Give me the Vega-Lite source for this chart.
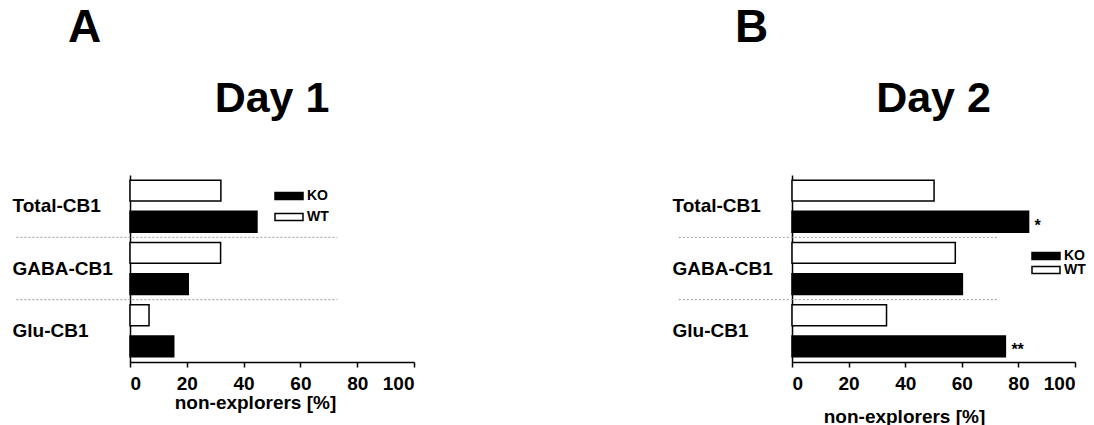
{
  "$schema": "https://vega.github.io/schema/vega-lite/v6.json",
  "padding": {"left": 12, "top": 5, "right": 0, "bottom": 0},
  "background": "white",
  "config": {
    "font": "Liberation Sans",
    "view": {"stroke": null},
    "axis": {"grid": false, "domainColor": "black", "domainWidth": 1.5, "tickColor": "black", "tickWidth": 1.5, "labelColor": "black", "labelFontWeight": "bold", "titleColor": "black", "titleFontWeight": "bold", "labelFontSize": 19, "titleFontSize": 19},
    "axisY": {"ticks": false, "tickSize": 0, "labelAlign": "left", "labelPadding": 118},
    "axisX": {"tickSize": 5, "labelPadding": 7, "titlePadding": 0},
    "legend": {"title": null, "orient": "none", "padding": 0, "symbolType": "M-2.333,-0.583h4.667v1.167h-4.667z", "symbolSize": 144, "symbolStrokeColor": "black", "symbolStrokeWidth": 1.5, "labelFontSize": 14, "labelFontWeight": "bold", "labelColor": "black", "labelOffset": 11},
    "title": {"color": "black", "fontWeight": "bold"}
  },
  "datasets": {
    "day1": [
      {"group": "Total-CB1", "genotype": "WT", "value": 32.0, "sig": ""},
      {"group": "Total-CB1", "genotype": "KO", "value": 44.7, "sig": ""},
      {"group": "GABA-CB1", "genotype": "WT", "value": 31.9, "sig": ""},
      {"group": "GABA-CB1", "genotype": "KO", "value": 20.5, "sig": ""},
      {"group": "Glu-CB1", "genotype": "WT", "value": 6.7, "sig": ""},
      {"group": "Glu-CB1", "genotype": "KO", "value": 15.4, "sig": ""}
    ],
    "day2": [
      {"group": "Total-CB1", "genotype": "WT", "value": 50.2, "sig": ""},
      {"group": "Total-CB1", "genotype": "KO", "value": 83.6, "sig": "*"},
      {"group": "GABA-CB1", "genotype": "WT", "value": 57.7, "sig": ""},
      {"group": "GABA-CB1", "genotype": "KO", "value": 60.2, "sig": ""},
      {"group": "Glu-CB1", "genotype": "WT", "value": 33.4, "sig": ""},
      {"group": "Glu-CB1", "genotype": "KO", "value": 75.4, "sig": "**"}
    ]
  },
  "spacing": 257,
  "resolve": {"legend": {"fill": "independent"}},
  "hconcat": [
    {
      "title": {"text": "A", "anchor": "start", "fontSize": 46, "dx": 56, "offset": 26},
      "resolve": {"legend": {"fill": "independent"}},
      "vconcat": [
        {
          "width": 284,
          "height": 187,
          "title": {"text": "Day 1", "anchor": "middle", "frame": "group", "fontSize": 43, "offset": 54},
          "data": {"name": "day1"},
          "layer": [
            {
              "mark": {"type": "bar", "stroke": "black", "strokeWidth": 1.5},
              "encoding": {
                "y": {"field": "group", "type": "nominal", "sort": ["Total-CB1", "GABA-CB1", "Glu-CB1"], "title": null, "scale": {"paddingInner": 0, "paddingOuter": 0}, "axis": {"labelPadding": 118}},
                "yOffset": {"field": "genotype", "type": "nominal", "sort": ["WT", "KO"], "scale": {"paddingInner": 0.33, "paddingOuter": 0.165}},
                "x": {"field": "value", "type": "quantitative", "scale": {"domain": [0, 100]}, "axis": {"values": [0, 20, 40, 60, 80, 100], "title": "non-explorers [%]", "titleX": 125, "titlePadding": 0}},
                "fill": {"field": "genotype", "type": "nominal", "scale": {"domain": ["KO", "WT"], "range": ["black", "white"]}, "legend": {"legendX": 152, "legendY": 14, "rowPadding": 7}}
              }
            },
            {
              "transform": [{"filter": "datum.genotype == 'WT' && datum.group != 'Total-CB1'"}],
              "mark": {"type": "rule", "strokeDash": [2, 2], "color": "#999999", "strokeWidth": 1},
              "encoding": {
                "y": {"field": "group", "type": "nominal", "sort": ["Total-CB1", "GABA-CB1", "Glu-CB1"], "bandPosition": 0, "title": null},
                "x": {"datum": -40},
                "x2": {"datum": 73}
              }
            }
          ]
        }
      ]
    },
    {
      "title": {"text": "B", "anchor": "start", "fontSize": 46, "dx": 63, "offset": 26},
      "resolve": {"legend": {"fill": "independent"}},
      "vconcat": [
        {
          "width": 283,
          "height": 187,
          "title": {"text": "Day 2", "anchor": "middle", "frame": "group", "fontSize": 43, "offset": 54},
          "data": {"name": "day2"},
          "layer": [
            {
              "mark": {"type": "bar", "stroke": "black", "strokeWidth": 1.5},
              "encoding": {
                "y": {"field": "group", "type": "nominal", "sort": ["Total-CB1", "GABA-CB1", "Glu-CB1"], "title": null, "scale": {"paddingInner": 0, "paddingOuter": 0}, "axis": {"labelPadding": 120}},
                "yOffset": {"field": "genotype", "type": "nominal", "sort": ["WT", "KO"], "scale": {"paddingInner": 0.33, "paddingOuter": 0.165}},
                "x": {"field": "value", "type": "quantitative", "scale": {"domain": [0, 100]}, "axis": {"values": [0, 20, 40, 60, 80, 100], "title": "non-explorers [%]", "titleX": 112, "titlePadding": 14}},
                "fill": {"field": "genotype", "type": "nominal", "scale": {"domain": ["KO", "WT"], "range": ["black", "white"]}, "legend": {"legendX": 247, "legendY": 74, "rowPadding": 0}}
              }
            },
            {
              "transform": [{"filter": "datum.genotype == 'WT' && datum.group != 'Total-CB1'"}],
              "mark": {"type": "rule", "strokeDash": [2, 2], "color": "#999999", "strokeWidth": 1},
              "encoding": {
                "y": {"field": "group", "type": "nominal", "sort": ["Total-CB1", "GABA-CB1", "Glu-CB1"], "bandPosition": 0, "title": null},
                "x": {"datum": -40},
                "x2": {"datum": 72.5}
              }
            },
            {
              "transform": [{"filter": "datum.sig != ''"}],
              "mark": {"type": "text", "align": "left", "baseline": "middle", "dx": 6, "dy": 4, "fontSize": 16, "fontWeight": "bold", "color": "black"},
              "encoding": {
                "y": {"field": "group", "type": "nominal", "sort": ["Total-CB1", "GABA-CB1", "Glu-CB1"], "title": null},
                "yOffset": {"field": "genotype", "type": "nominal", "sort": ["WT", "KO"]},
                "x": {"field": "value", "type": "quantitative"},
                "text": {"field": "sig"}
              }
            }
          ]
        }
      ]
    }
  ]
}
